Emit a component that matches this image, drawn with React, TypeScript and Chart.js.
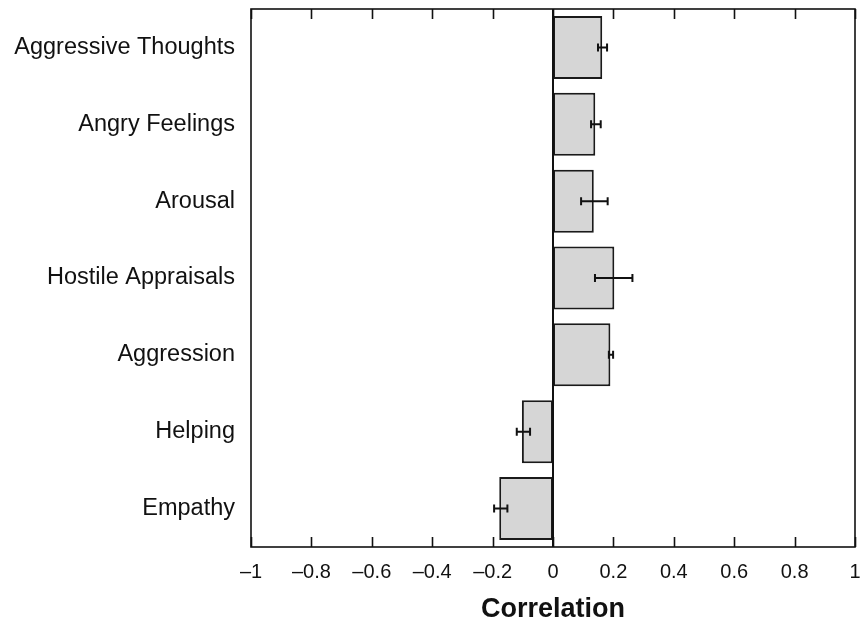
import React, { useEffect, useRef } from "react";
import { Chart, registerables } from "chart.js";

Chart.register(...registerables);

const categories = [
  "Aggressive Thoughts",
  "Angry Feelings",
  "Arousal",
  "Hostile Appraisals",
  "Aggression",
  "Helping",
  "Empathy",
];
const correlations = [0.163, 0.14, 0.135, 0.203, 0.19, -0.103, -0.178];
const ciLow = [0.149, 0.126, 0.093, 0.139, 0.185, -0.12, -0.195];
const ciHigh = [0.179, 0.158, 0.181, 0.263, 0.199, -0.076, -0.151];
const xMin = -1;
const xMax = 1;
const xStep = 0.2;
const axisTitle = "Correlation";

const FONT = "'Liberation Sans', Arial, Helvetica, sans-serif";

const framePlugin = {
  id: "frameAndTicks",
  afterDatasetsDraw(chart: any) {
    const { ctx, chartArea, scales } = chart;
    const xs = scales.x;
    ctx.save();
    ctx.strokeStyle = "#111";
    // zero line
    const x0 = xs.getPixelForValue(0);
    ctx.lineWidth = 2;
    ctx.beginPath();
    ctx.moveTo(x0, chartArea.top);
    ctx.lineTo(x0, chartArea.bottom);
    ctx.stroke();
    // inward tick marks top & bottom
    ctx.lineWidth = 1.6;
    xs.ticks.forEach((t: any) => {
      const px = Math.round(xs.getPixelForValue(t.value)) + 0.5;
      ctx.beginPath();
      ctx.moveTo(px, chartArea.bottom);
      ctx.lineTo(px, chartArea.bottom - 10);
      ctx.moveTo(px, chartArea.top);
      ctx.lineTo(px, chartArea.top + 10);
      ctx.stroke();
    });
    // error bars
    const meta = chart.getDatasetMeta(0);
    ctx.lineWidth = 2;
    meta.data.forEach((bar: any, i: number) => {
      const y = bar.y;
      const x1 = xs.getPixelForValue(ciLow[i]);
      const x2 = xs.getPixelForValue(ciHigh[i]);
      ctx.beginPath();
      ctx.moveTo(x1, y);
      ctx.lineTo(x2, y);
      ctx.moveTo(x1, y - 4);
      ctx.lineTo(x1, y + 4);
      ctx.moveTo(x2, y - 4);
      ctx.lineTo(x2, y + 4);
      ctx.stroke();
    });
    // frame
    ctx.lineWidth = 1.6;
    ctx.strokeRect(
      chartArea.left,
      chartArea.top,
      chartArea.right - chartArea.left,
      chartArea.bottom - chartArea.top
    );
    ctx.restore();
  },
};

function fmt(v: number): string {
  const r = Math.round(v * 10) / 10;
  if (r === 0) return "0";
  const s = Math.abs(r).toString();
  return r < 0 ? "\u2013" + s : s;
}

export default function App() {
  const ref = useRef<HTMLCanvasElement | null>(null);
  useEffect(() => {
    if (!ref.current) return;
    const chart = new Chart(ref.current, {
      type: "bar",
      data: {
        labels: categories,
        datasets: [
          {
            data: correlations,
            backgroundColor: "#d6d6d6",
            borderColor: "#1a1a1a",
            borderWidth: 2,
            borderSkipped: false,
            categoryPercentage: 1,
            barPercentage: 0.82,
          },
        ],
      },
      options: {
        indexAxis: "y",
        animation: false,
        responsive: true,
        maintainAspectRatio: false,
        layout: { padding: { left: 0, right: 7, top: 9, bottom: 0 } },
        plugins: {
          legend: { display: false },
          tooltip: { enabled: false },
        },
        scales: {
          x: {
            type: "linear",
            min: xMin,
            max: xMax,
            ticks: {
              stepSize: xStep,
              padding: 13,
              color: "#111",
              font: { family: FONT, size: 20 },
              callback: (v: any) => fmt(Number(v)),
            },
            grid: { display: false, drawTicks: false },
            border: { display: false },
            title: {
              display: true,
              text: axisTitle,
              color: "#111",
              font: { family: FONT, size: 27, weight: "bold" },
              padding: { top: 0, bottom: 2 },
            },
            afterFit: (s: any) => {
              s.height = 81;
              s.paddingLeft = 0;
              s.paddingRight = 0;
            },
          },
          y: {
            ticks: {
              padding: 16,
              color: "#111",
              font: { family: FONT, size: 23.5 },
            },
            grid: { display: false, drawTicks: false },
            border: { display: false },
            afterFit: (s: any) => {
              s.width = 251;
              s.paddingTop = 0;
              s.paddingBottom = 0;
            },
          },
        },
      },
      plugins: [framePlugin],
    });
    return () => chart.destroy();
  }, []);
  return (
    <div
      style={{
        position: "fixed",
        left: 0,
        top: 0,
        width: 862,
        height: 628,
        background: "#fff",
      }}
    >
      <canvas ref={ref} />
    </div>
  );
}
